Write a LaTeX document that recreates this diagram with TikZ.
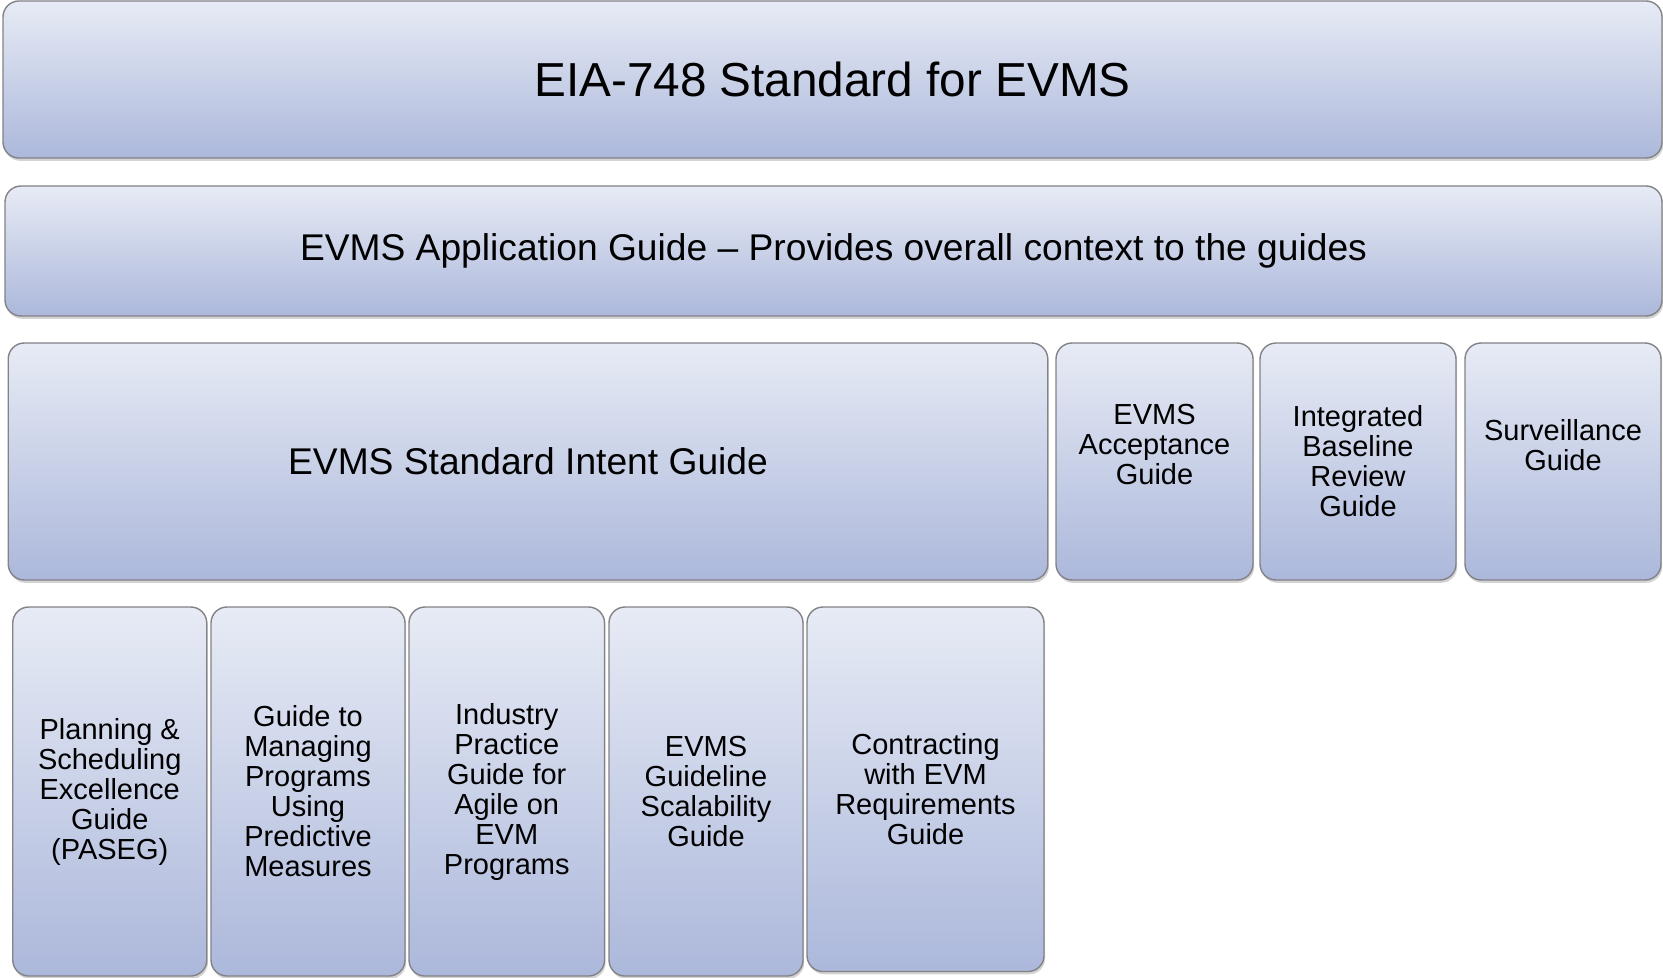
\documentclass[tikz,border=0pt]{standalone}
\usepackage{fontspec}
\setmainfont{Liberation Sans}
\usepackage{tikz}
\usetikzlibrary{shapes.geometric, shadows}
\definecolor{boxtop}{RGB}{231,235,245}
\definecolor{boxbot}{RGB}{172,184,219}
\definecolor{boxline}{RGB}{130,130,135}

\begin{document}
\begin{tikzpicture}[x=0.5pt, y=-0.5pt]
        \tikzstyle{proc} = [rectangle, rounded corners=8pt, text centered, align=center, draw=boxline, line width=0.7pt, top color=boxtop, bottom color=boxbot, drop shadow={shadow xshift=0.6pt, shadow yshift=-1.4pt, opacity=0.35}, inner sep=0pt]
        \tikzstyle{big} = [font=\fontsize{23.85pt}{28pt}\selectfont]
        \tikzstyle{mid} = [font=\fontsize{18.6pt}{22pt}\selectfont]
        \tikzstyle{small} = [font=\fontsize{14.5pt}{15pt}\selectfont, align=center]
        \tikzstyle{tall} = [proc, small, minimum height=184.5pt]
        \useasboundingbox (0,0) rectangle (1663,978);
        \node [proc, big, minimum width=829.5pt, minimum height=78.5pt] (1) at (832.5, 79.5) {EIA-748 Standard for EVMS};
	 \node [proc, mid, minimum width=828.5pt, minimum height=65pt] (2) at (833.5, 251) {EVMS Application Guide -- Provides overall context to the guides};
	 \node [proc, mid, minimum width=519.75pt, minimum height=118.5pt] (3) at (528, 461.5) {EVMS Standard Intent Guide};
	 \node [proc, minimum width=98.5pt, minimum height=118.5pt] (4) at (1154.5, 461.5) {};
	 \node [small] (4t) at (1154.5, 445) {EVMS\\Acceptance\\Guide};
	 \node [proc, small, minimum width=98pt, minimum height=118.5pt] (5) at (1358, 461.5) {Integrated\\Baseline\\Review\\Guide};
	 \node [proc, minimum width=98pt, minimum height=118.5pt] (6) at (1563, 461.5) {};
	 \node [small] (6t) at (1563, 445) {Surveillance\\Guide};
	 \node [tall, minimum width=97pt] (7) at (109.75, 791.5) {Planning \&\\Scheduling\\Excellence\\Guide\\(PASEG)};
	 \node [tall, minimum width=97pt] (8) at (308, 791.5) {Guide to\\Managing\\Programs\\Using\\Predictive\\Measures};
	 \node [tall, minimum width=97.75pt] (9) at (506.75, 791.5) {Industry\\Practice\\Guide for\\Agile on\\EVM\\Programs};
	 \node [tall, minimum width=97pt] (10) at (706, 791.5) {EVMS\\Guideline\\Scalability\\Guide};
	 \node [tall, minimum width=118.5pt, minimum height=182.25pt] (11) at (925.5, 789.25) {Contracting\\with EVM\\Requirements\\Guide};
    \end{tikzpicture}
\end{document}
